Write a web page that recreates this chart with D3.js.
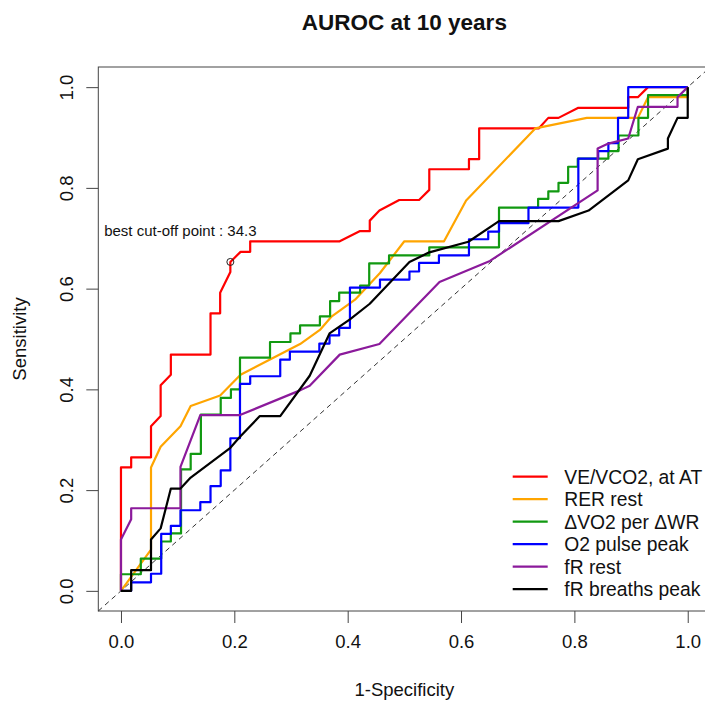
<!DOCTYPE html>
<html>
<head>
<meta charset="utf-8">
<script src="https://cdn.jsdelivr.net/npm/d3@7"></script>
<style>
  body { margin: 0; background: #fff; }
  text { font-family: "Liberation Sans", Arial, sans-serif; fill: #111; }
</style>
</head>
<body>
<script>
// ROC curves, [1-specificity, sensitivity]
const veVco2 = [[0,0],[0,0.245],[0.018,0.245],[0.018,0.265],[0.053,0.265],[0.053,0.327],[0.070,0.347],[0.070,0.408],
  [0.088,0.429],[0.088,0.469],[0.158,0.469],[0.158,0.551],[0.175,0.551],[0.175,0.592],[0.193,0.633],[0.193,0.653],
  [0.211,0.673],[0.228,0.673],[0.228,0.694],[0.386,0.694],[0.421,0.714],[0.439,0.714],[0.439,0.735],[0.456,0.755],
  [0.491,0.776],[0.526,0.776],[0.544,0.796],[0.544,0.837],[0.614,0.837],[0.614,0.857],[0.632,0.857],[0.632,0.918],
  [0.737,0.918],[0.754,0.939],[0.772,0.939],[0.807,0.959],[0.895,0.959],[0.895,0.980],[0.912,0.980],[0.930,1],[1,1]];

const rerRest = [[0,0],[0.053,0.082],[0.053,0.245],[0.070,0.286],[0.105,0.327],[0.123,0.367],[0.175,0.388],[0.211,0.429],
  [0.316,0.490],[0.351,0.518],[0.372,0.545],[0.413,0.578],[0.457,0.631],[0.500,0.694],[0.570,0.694],[0.609,0.775],
  [0.731,0.918],[0.822,0.939],[0.912,0.939],[0.930,0.980],[1,0.980],[1,1]];

const dVo2 = [[0,0],[0,0.033],[0.035,0.033],[0.035,0.064],[0.071,0.064],[0.071,0.098],[0.088,0.098],[0.088,0.114],
  [0.106,0.114],[0.106,0.241],[0.123,0.241],[0.123,0.272],[0.141,0.272],[0.141,0.350],[0.176,0.350],[0.176,0.383],
  [0.194,0.383],[0.194,0.400],[0.210,0.400],[0.210,0.463],[0.263,0.463],[0.263,0.494],[0.299,0.494],[0.299,0.511],
  [0.316,0.511],[0.316,0.527],[0.351,0.527],[0.351,0.545],[0.369,0.545],[0.369,0.575],[0.385,0.575],[0.385,0.592],
  [0.422,0.592],[0.422,0.606],[0.438,0.606],[0.438,0.650],[0.473,0.650],[0.473,0.666],[0.544,0.666],[0.544,0.682],
  [0.667,0.682],[0.667,0.761],[0.736,0.761],[0.736,0.778],[0.754,0.778],[0.754,0.793],[0.772,0.793],[0.772,0.810],
  [0.789,0.810],[0.789,0.842],[0.806,0.842],[0.806,0.858],[0.860,0.858],[0.860,0.873],[0.878,0.873],[0.878,0.904],
  [0.913,0.904],[0.913,0.939],[0.930,0.939],[0.930,0.984],[1,0.984],[1,1]];

const o2Pulse = [[0,0],[0.018,0],[0.018,0.017],[0.053,0.017],[0.053,0.034],[0.071,0.034],[0.071,0.113],[0.088,0.113],
  [0.088,0.129],[0.105,0.129],[0.105,0.160],[0.140,0.160],[0.140,0.176],[0.158,0.176],[0.158,0.208],[0.176,0.208],
  [0.176,0.239],[0.193,0.239],[0.193,0.303],[0.210,0.303],[0.210,0.411],[0.228,0.411],[0.228,0.426],[0.281,0.426],
  [0.281,0.459],[0.298,0.459],[0.298,0.475],[0.350,0.475],[0.350,0.491],[0.368,0.491],[0.368,0.507],[0.385,0.507],
  [0.385,0.522],[0.404,0.522],[0.404,0.602],[0.457,0.602],[0.457,0.618],[0.509,0.618],[0.509,0.634],[0.526,0.634],
  [0.526,0.651],[0.561,0.651],[0.561,0.666],[0.614,0.666],[0.614,0.698],[0.648,0.698],[0.648,0.713],[0.667,0.713],
  [0.667,0.730],[0.719,0.730],[0.719,0.761],[0.807,0.761],[0.807,0.858],[0.842,0.858],[0.842,0.873],[0.860,0.873],
  [0.860,0.889],[0.877,0.889],[0.877,0.939],[0.895,0.939],[0.895,1],[1,1]];

const frRest = [[0,0],[0,0.102],[0.018,0.142],[0.018,0.164],[0.105,0.164],[0.105,0.246],[0.140,0.349],[0.210,0.349],
  [0.316,0.398],[0.333,0.407],[0.386,0.469],[0.456,0.490],[0.562,0.613],[0.651,0.655],[0.841,0.795],[0.841,0.878],
  [0.860,0.888],[0.895,0.898],[0.912,0.961],[0.982,0.961],[0.982,0.980],[1,1]];

const frPeak = [[0,0],[0.018,0],[0.018,0.041],[0.053,0.041],[0.053,0.102],[0.070,0.124],[0.088,0.203],[0.105,0.203],
  [0.123,0.225],[0.193,0.284],[0.210,0.306],[0.245,0.347],[0.281,0.347],[0.333,0.427],[0.368,0.511],[0.404,0.539],
  [0.439,0.570],[0.509,0.653],[0.544,0.672],[0.613,0.693],[0.667,0.734],[0.772,0.734],[0.825,0.755],[0.895,0.815],
  [0.912,0.857],[0.965,0.878],[0.965,0.898],[0.982,0.939],[1,0.939],[1,1]];

const seriesNames = ["VE/VCO2, at AT", "RER rest", "ΔVO2 per ΔWR", "O2 pulse peak", "fR rest", "fR breaths peak"];
const seriesData = [veVco2, rerRest, dVo2, o2Pulse, frRest, frPeak];
const seriesColors = ["#ff0000", "#ffa500", "#119911", "#0000ff", "#8b1a9b", "#000000"];

const ticks = [0, 0.2, 0.4, 0.6, 0.8, 1.0];
const cutPoint = [0.193, 0.653];
const cutLabel = "best cut-off point : 34.3";

const W = 705, H = 702;
const M = { left: 98.3, right: 710.4, top: 67, bottom: 611 };

const svg = d3.select("body").append("svg")
  .attr("width", W)
  .attr("height", H);

const x = d3.scaleLinear().domain([-0.04, 1.04]).range([M.left, M.right]);
const y = d3.scaleLinear().domain([-0.04, 1.04]).range([M.bottom, M.top]);

// title
svg.append("text")
  .attr("x", (M.left + M.right) / 2)
  .attr("y", 30)
  .attr("text-anchor", "middle")
  .style("font-size", "22.5px")
  .style("font-weight", "bold")
  .text("AUROC at 10 years");

// axes
const xAxis = d3.axisBottom(x).tickValues(ticks).tickFormat(d3.format(".1f")).tickSize(12).tickSizeOuter(0);
const yAxis = d3.axisLeft(y).tickValues(ticks).tickFormat(d3.format(".1f")).tickSize(12).tickSizeOuter(0);

const gx = svg.append("g").attr("transform", `translate(0,${M.bottom})`).call(xAxis);
gx.select(".domain").remove();
gx.selectAll("line").attr("stroke", "#444");
gx.selectAll("text")
  .attr("y", 37).attr("dy", 0)
  .style("font-size", "18.5px")
  .style("font-family", "'Liberation Sans', Arial, sans-serif")
  .attr("fill", "#111");

const gy = svg.append("g").attr("transform", `translate(${M.left},0)`).call(yAxis);
gy.select(".domain").remove();
gy.selectAll("line").attr("stroke", "#444");
gy.selectAll("text")
  .attr("transform", "rotate(-90)")
  .attr("x", 0).attr("y", -25).attr("dy", 0)
  .attr("text-anchor", "middle")
  .style("font-size", "18.5px")
  .style("font-family", "'Liberation Sans', Arial, sans-serif")
  .attr("fill", "#111");

// box round the plot region
svg.append("rect")
  .attr("x", M.left).attr("y", M.top)
  .attr("width", M.right - M.left).attr("height", M.bottom - M.top)
  .attr("fill", "none").attr("stroke", "#444");

svg.append("text")
  .attr("x", (M.left + M.right) / 2)
  .attr("y", 696)
  .attr("text-anchor", "middle")
  .style("font-size", "18.5px")
  .text("1-Specificity");

svg.append("text")
  .attr("transform", `translate(26,${(M.top + M.bottom) / 2}) rotate(-90)`)
  .attr("text-anchor", "middle")
  .style("font-size", "18.5px")
  .text("Sensitivity");

// chance line
svg.append("line")
  .attr("x1", x(-0.04)).attr("y1", y(-0.04))
  .attr("x2", x(1.04)).attr("y2", y(1.04))
  .attr("stroke", "#333")
  .attr("stroke-width", 1)
  .attr("stroke-dasharray", "5,4");

const line = d3.line().x(d => x(d[0])).y(d => y(d[1]));

svg.selectAll(".roc")
  .data(seriesData)
  .enter()
  .append("path")
    .attr("class", "roc")
    .attr("d", line)
    .attr("fill", "none")
    .attr("stroke", (d, i) => seriesColors[i])
    .attr("stroke-width", 2.2)
    .attr("stroke-linejoin", "round");

// cut-off point
svg.append("circle")
  .attr("cx", x(cutPoint[0]))
  .attr("cy", y(cutPoint[1]))
  .attr("r", 3.5)
  .attr("fill", "none")
  .attr("stroke", "#222")
  .attr("stroke-width", 1);

svg.append("text")
  .attr("x", x(cutPoint[0]) - 50)
  .attr("y", y(cutPoint[1]) - 26)
  .attr("text-anchor", "middle")
  .style("font-size", "15px")
  .text(cutLabel);

// legend
const legend = svg.append("g");
seriesNames.forEach((name, i) => {
  const ly = 476.7 + i * 22.5;
  legend.append("line")
    .attr("x1", 512.7).attr("x2", 547.7)
    .attr("y1", ly).attr("y2", ly)
    .attr("stroke", seriesColors[i])
    .attr("stroke-width", 2.2);
  legend.append("text")
    .attr("x", 564.3)
    .attr("y", ly + 7)
    .style("font-size", "19.3px")
    .text(name);
});
</script>
</body>
</html>
